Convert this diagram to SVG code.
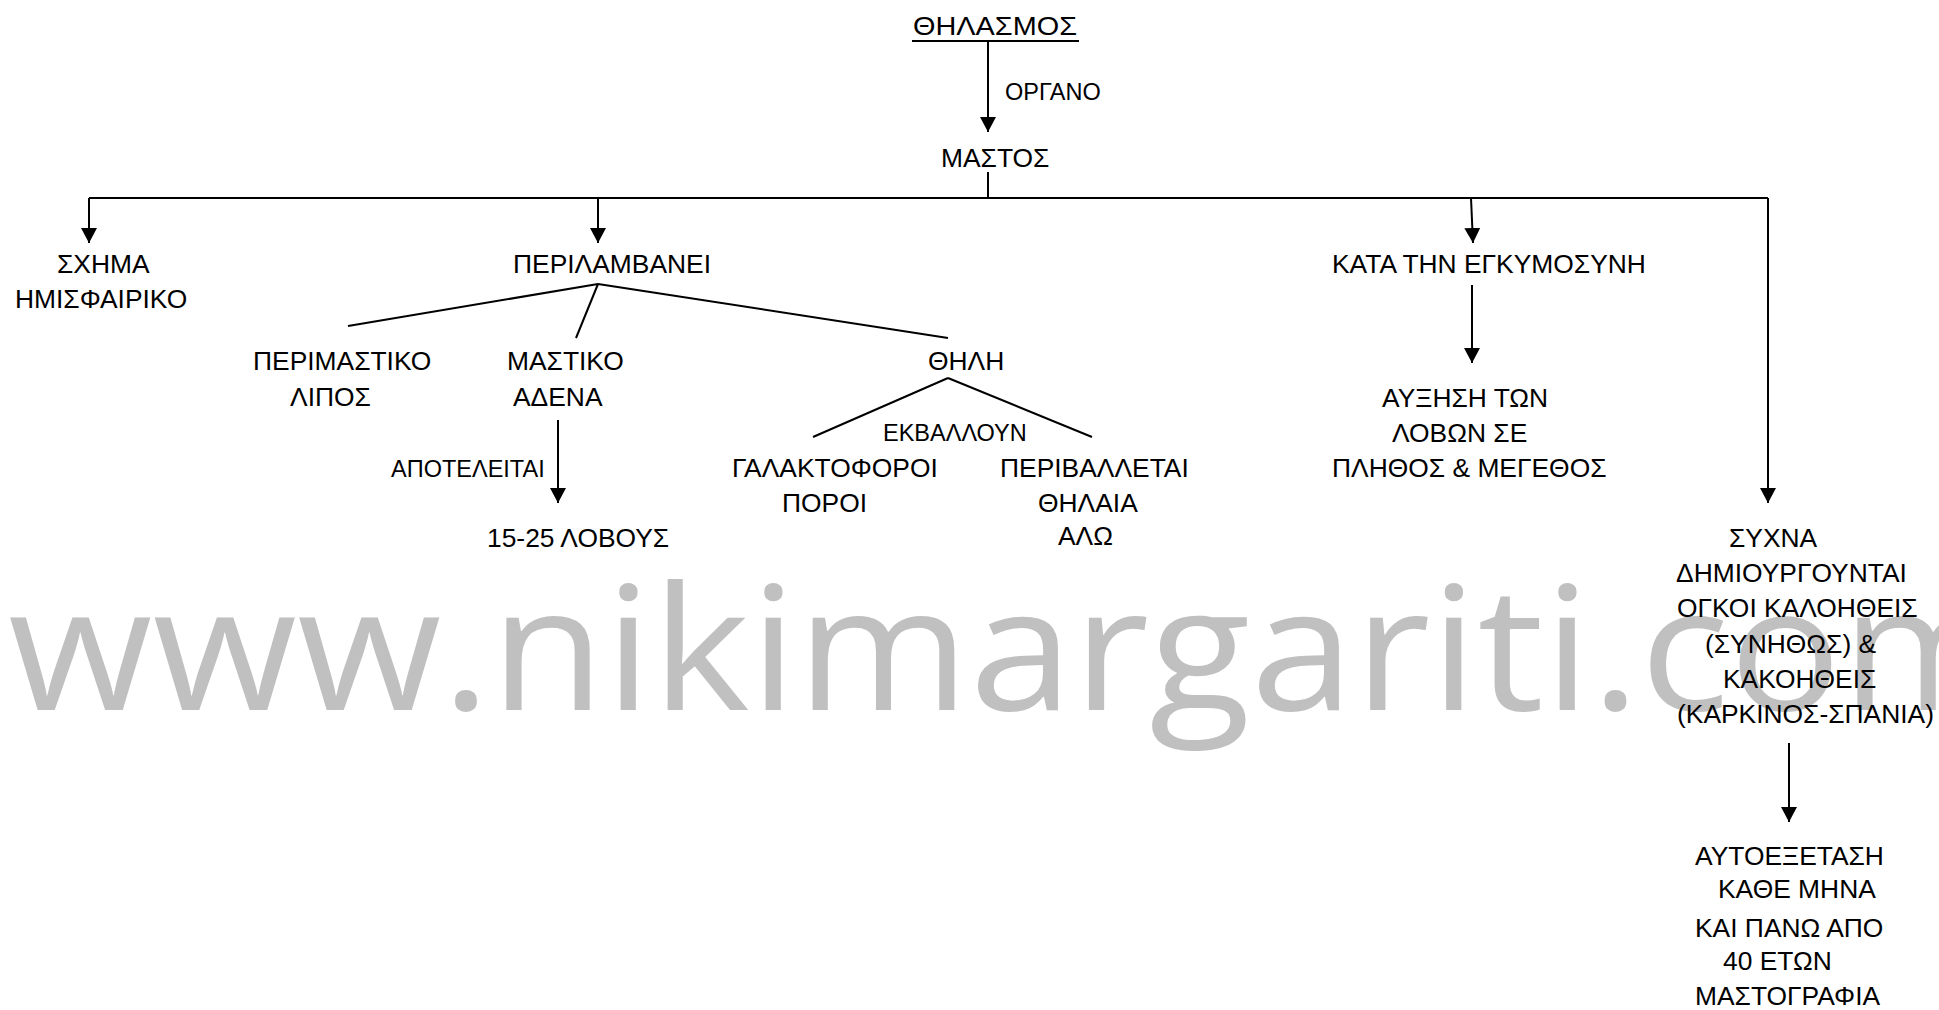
<svg xmlns="http://www.w3.org/2000/svg" width="1939" height="1010" viewBox="0 0 1939 1010">
<defs>
<marker id="ah" markerUnits="userSpaceOnUse" markerWidth="15" markerHeight="16" refX="15" refY="8" orient="auto">
<path d="M0,0 L15,8 L0,16 z" fill="#000"/>
</marker>
<style>
.t{font-family:"Liberation Sans",Arial,sans-serif;font-size:26.4px;fill:#000}
.s{font-family:"Liberation Sans",Arial,sans-serif;font-size:23.5px;fill:#000}
.c{stroke:#000;stroke-width:2;fill:none}
.a{stroke:#000;stroke-width:2;fill:none;marker-end:url(#ah)}
.wm{font-family:"Open Sans","Noto Sans",sans-serif;font-size:172px;fill:#c0c0c0}
</style>
</defs>
<rect width="1939" height="1010" fill="#fff"/>
<g id="watermark"><text class="wm" x="8" y="710" textLength="2006" lengthAdjust="spacingAndGlyphs">www.nikimargariti.com</text></g>
<g id="connectors">
<line class="c" x1="912" y1="41" x2="1079" y2="41"/>
<line class="a" x1="988" y1="41" x2="988" y2="132"/>
<line class="c" x1="988" y1="172" x2="988" y2="198"/>
<polyline class="c" points="89,198 1768,198"/>
<line class="a" x1="89" y1="198" x2="89" y2="243"/>
<line class="a" x1="598" y1="198" x2="598" y2="243"/>
<line class="a" x1="1471" y1="198" x2="1473" y2="243"/>
<line class="a" x1="1768" y1="198" x2="1768" y2="503"/>
<line class="c" x1="598" y1="284" x2="348" y2="326"/>
<line class="c" x1="598" y1="284" x2="576" y2="338"/>
<line class="c" x1="598" y1="284" x2="948" y2="338"/>
<line class="a" x1="558" y1="420" x2="558" y2="503"/>
<line class="c" x1="948" y1="378" x2="813" y2="437"/>
<line class="c" x1="948" y1="378" x2="1092" y2="437"/>
<line class="a" x1="1472" y1="285" x2="1472" y2="363"/>
<line class="a" x1="1789" y1="743" x2="1789" y2="822"/>
</g>
<g id="n-thilasmos"><text class="t" x="913" y="35" textLength="164" lengthAdjust="spacingAndGlyphs">ΘΗΛΑΣΜΟΣ</text></g>
<g id="l-organo"><text class="s" x="1005" y="100">ΟΡΓΑΝΟ</text></g>
<g id="n-mastos"><text class="t" x="941" y="167">ΜΑΣΤΟΣ</text></g>
<g id="n-schima"><text class="t" x="57" y="273">ΣΧΗΜΑ</text><text class="t" x="15" y="308">ΗΜΙΣΦΑΙΡΙΚΟ</text></g>
<g id="n-perilamvanei"><text class="t" x="513" y="273">ΠΕΡΙΛΑΜΒΑΝΕΙ</text></g>
<g id="n-perimastiko"><text class="t" x="253" y="370">ΠΕΡΙΜΑΣΤΙΚΟ</text><text class="t" x="290" y="406">ΛΙΠΟΣ</text></g>
<g id="n-mastiko"><text class="t" x="507" y="370">ΜΑΣΤΙΚΟ</text><text class="t" x="513" y="406">ΑΔΕΝΑ</text></g>
<g id="l-apoteleitai"><text class="s" x="391" y="477">ΑΠΟΤΕΛΕΙΤΑΙ</text></g>
<g id="n-lovous"><text class="t" x="487" y="547">15-25 ΛΟΒΟΥΣ</text></g>
<g id="n-thili"><text class="t" x="928" y="370">ΘΗΛΗ</text></g>
<g id="l-ekvalloun"><text class="s" x="883" y="441">ΕΚΒΑΛΛΟΥΝ</text></g>
<g id="n-galaktoforoi"><text class="t" x="732" y="477">ΓΑΛΑΚΤΟΦΟΡΟΙ</text><text class="t" x="782" y="512">ΠΟΡΟΙ</text></g>
<g id="n-perivalletai"><text class="t" x="1000" y="477">ΠΕΡΙΒΑΛΛΕΤΑΙ</text><text class="t" x="1038" y="512">ΘΗΛΑΙΑ</text><text class="t" x="1058" y="545">ΑΛΩ</text></g>
<g id="n-egkymosyni"><text class="t" x="1332" y="273">ΚΑΤΑ ΤΗΝ ΕΓΚΥΜΟΣΥΝΗ</text></g>
<g id="n-afxisi"><text class="t" x="1382" y="407">ΑΥΞΗΣΗ ΤΩΝ</text><text class="t" x="1392" y="442">ΛΟΒΩΝ ΣΕ</text><text class="t" x="1332" y="477">ΠΛΗΘΟΣ &amp; ΜΕΓΕΘΟΣ</text></g>
<g id="n-sychna"><text class="t" x="1729" y="547">ΣΥΧΝΑ</text><text class="t" x="1676" y="582">ΔΗΜΙΟΥΡΓΟΥΝΤΑΙ</text><text class="t" x="1677" y="617">ΟΓΚΟΙ ΚΑΛΟΗΘΕΙΣ</text><text class="t" x="1705" y="653">(ΣΥΝΗΘΩΣ) &amp;</text><text class="t" x="1723" y="688">ΚΑΚΟΗΘΕΙΣ</text><text class="t" x="1677" y="723">(ΚΑΡΚΙΝΟΣ-ΣΠΑΝΙΑ)</text></g>
<g id="n-aftoexetasi"><text class="t" x="1695" y="865">ΑΥΤΟΕΞΕΤΑΣΗ</text><text class="t" x="1718" y="898">ΚΑΘΕ ΜΗΝΑ</text><text class="t" x="1695" y="937">ΚΑΙ ΠΑΝΩ ΑΠΟ</text><text class="t" x="1723" y="970">40 ΕΤΩΝ</text><text class="t" x="1695" y="1005">ΜΑΣΤΟΓΡΑΦΙΑ</text></g>
</svg>
